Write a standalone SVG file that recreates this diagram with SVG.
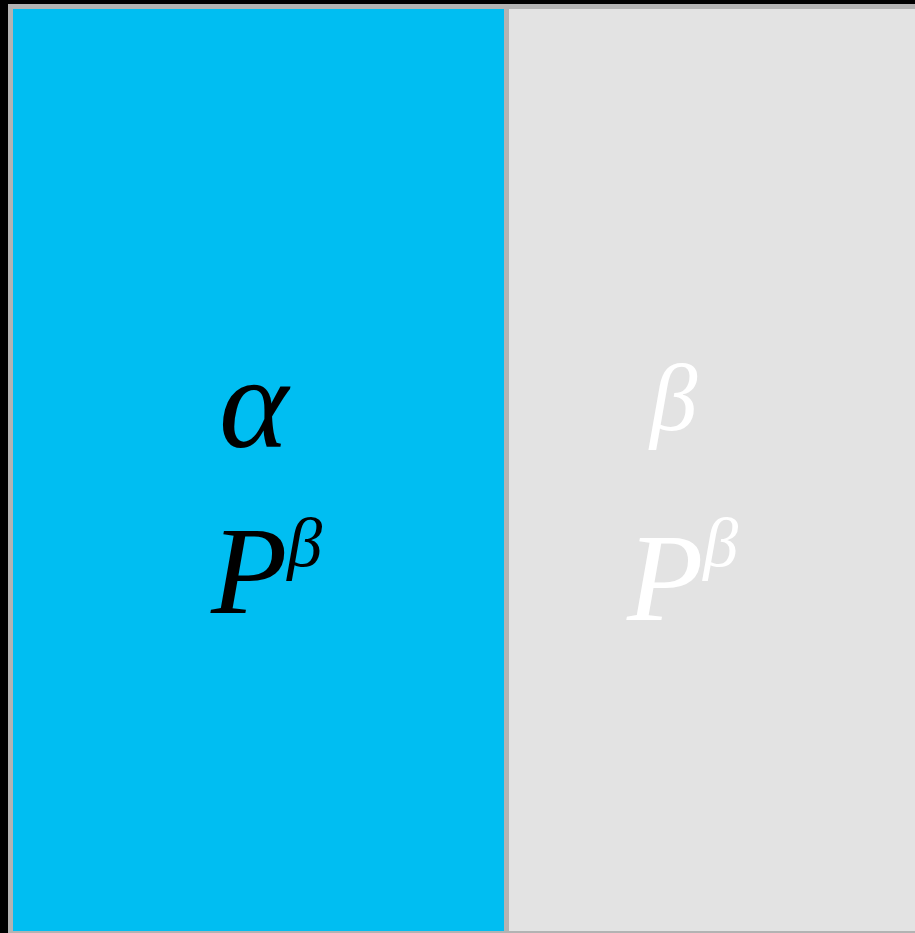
<svg xmlns="http://www.w3.org/2000/svg" width="915" height="933" viewBox="0 0 915 933">
<style>
.m{font-family:"Liberation Serif","Times New Roman",serif;font-style:italic}
.blk{fill:#000}
.wht{fill:#fff}
.panel{stroke:#b3b3b3;stroke-width:5}
</style>
<rect x="0" y="0" width="915" height="933" fill="#000"/>
<g id="alpha-phase">
<rect class="panel" x="10.5" y="6.5" width="496" height="927" fill="#00bef2"/>
<text class="m blk" x="219" y="447" font-size="132">α</text>
<text class="m blk" x="211" y="613" font-size="125">P<tspan font-size="70" dy="-47">β</tspan></text>
</g>
<g id="beta-phase">
<rect class="panel" x="506.5" y="6.5" width="420" height="927" fill="#e3e3e3"/>
<text class="m wht" x="650" y="430" font-size="95">β</text>
<text class="m wht" x="627" y="620" font-size="125">P<tspan font-size="70" dy="-54">β</tspan></text>
</g>
</svg>
